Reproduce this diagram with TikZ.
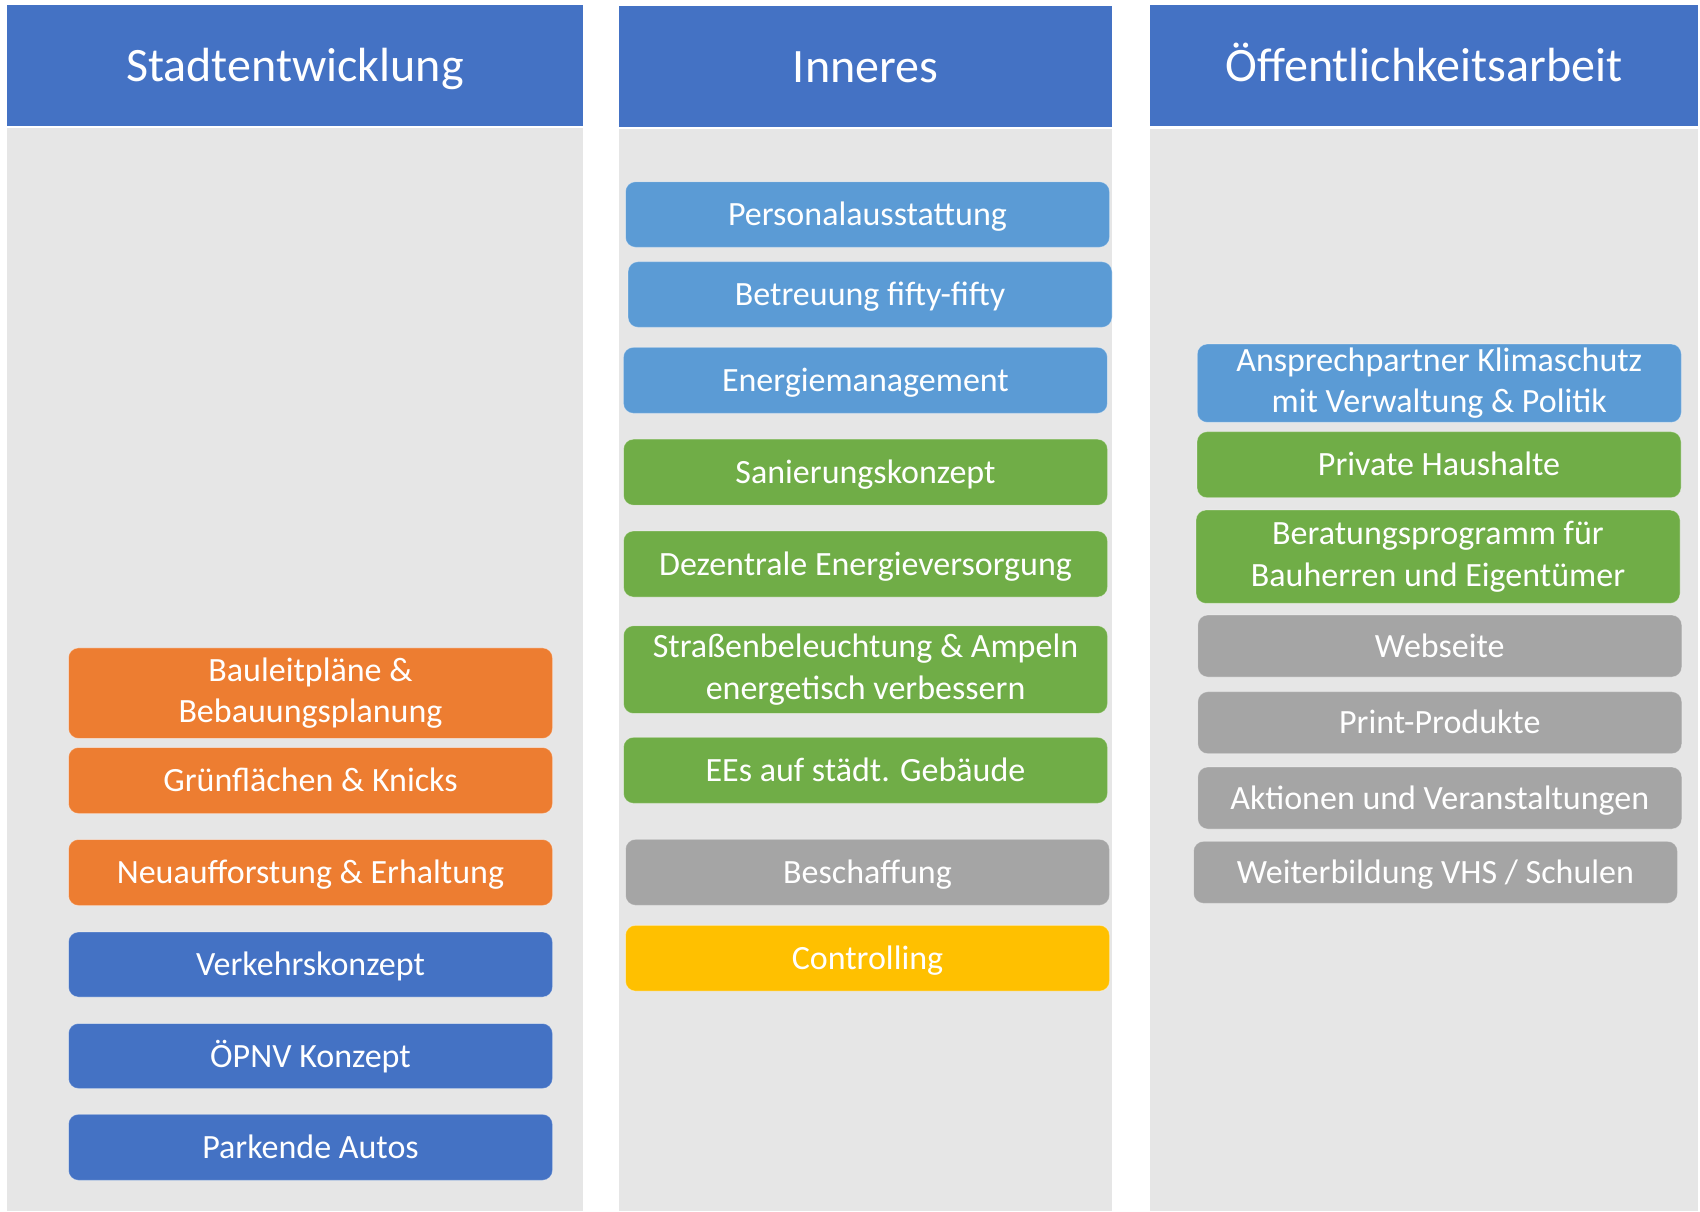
\documentclass[tikz,border=0pt]{standalone}
\usepackage{fontspec}
\setmainfont{Carlito}
\definecolor{hdrblue}{HTML}{4472C4}
\definecolor{bodygray}{HTML}{E6E6E6}
\definecolor{ltblue}{HTML}{5B9BD5}
\definecolor{grn}{HTML}{70AD47}
\definecolor{orng}{HTML}{ED7D31}
\definecolor{dkblue}{HTML}{4472C4}
\definecolor{boxgray}{HTML}{A5A5A5}
\definecolor{yell}{HTML}{FFC000}
\begin{document}
\begin{tikzpicture}[x=0.5pt,y=-0.5pt,
  hdr/.style={fill=hdrblue, inner sep=0, text=white, font=\fontsize{24}{29}\selectfont, text height=15.6pt, text depth=0pt},
  body/.style={fill=bodygray, inner sep=0},
  item/.style={rounded corners=5pt, inner sep=0, text=white, font=\fontsize{17}{20.7}\selectfont, align=center, minimum width=242pt, draw=white, draw opacity=0.35, line width=0.4pt},
  one/.style={text height=11pt, text depth=0pt},
  two/.style={yshift=-1.2pt},
]
\useasboundingbox[fill=white] (0,0) rectangle (1700,1211);
% column bodies
\node[body, minimum width=288pt, minimum height=541.75pt] (b1) at (295,669.25) {};
\node[body, minimum width=246.5pt, minimum height=541pt] (b2) at (865.5,670) {};
\node[body, minimum width=274pt, minimum height=541pt] (b3) at (1424,670) {};
% headers
\node[hdr, minimum width=288pt, minimum height=60.5pt] (h1) at (295,65.5) {Stadtentwicklung};
\node[hdr, minimum width=246.5pt, minimum height=60.5pt] (h2) at (865.5,66.5) {Inneres};
\node[hdr, minimum width=274pt, minimum height=60.5pt] (h3) at (1424,65.5) {Öffentlichkeitsarbeit};
% column 1
\node[item, fill=orng, minimum height=45.25pt, two] (bau) at (310.5,690.75) {Bauleitpläne \&\\Bebauungsplanung};
\node[item, one, fill=orng, minimum height=33pt] (gruen) at (310.5,780.5) {Grünflächen \& Knicks};
\node[item, one, fill=orng, minimum height=33pt] (neu) at (310.5,872.5) {Neuaufforstung \& Erhaltung};
\node[item, one, fill=dkblue, minimum height=32.5pt] (verk) at (310.5,964.5) {Verkehrskonzept};
\node[item, one, fill=dkblue, minimum height=32.5pt] (oepnv) at (310.5,1056) {ÖPNV Konzept};
\node[item, one, fill=dkblue, minimum height=33pt] (park) at (310.5,1147.25) {Parkende Autos};
% column 2
\node[item, one, fill=ltblue, minimum height=32.75pt] (pers) at (867.5,214.5) {Personalausstattung};
\node[item, one, fill=ltblue, minimum height=32.8pt] (betr) at (870,294.5) {Betreuung fifty-fifty};
\node[item, one, fill=ltblue, minimum height=33pt] (energ) at (865.4,380.3) {Energiemanagement};
\node[item, one, fill=grn, minimum height=33pt] (sanier) at (865.5,472.2) {Sanierungskonzept};
\node[item, one, fill=grn, minimum height=33pt] (dezent) at (865.5,564) {Dezentrale Energieversorgung};
\node[item, fill=grn, minimum height=43.85pt, two] (strassen) at (865.5,667.2) {Straßenbeleuchtung \& Ampeln\\energetisch verbessern};
\node[item, one, fill=grn, minimum height=33pt] (ees) at (865.5,770.3) {EEs auf städt. Gebäude};
\node[item, one, fill=boxgray, minimum height=33pt] (besch) at (867.5,872.3) {Beschaffung};
\node[item, one, fill=yell, minimum height=32.85pt] (contr) at (867.5,958.2) {Controlling};
% column 3
\node[item, fill=ltblue, minimum height=39.15pt, two] (ansp) at (1439.25,380.8) {Ansprechpartner Klimaschutz\\mit Verwaltung \& Politik};
\node[item, one, fill=grn, minimum height=33pt] (priv) at (1439,464.7) {Private Haushalte};
\node[item, fill=grn, minimum height=46.65pt, two] (berat) at (1438,554.3) {Beratungsprogramm für\\Bauherren und Eigentümer};
\node[item, one, fill=boxgray, minimum height=31pt] (web) at (1439.75,646) {Webseite};
\node[item, one, fill=boxgray, minimum height=31pt] (print) at (1439.75,722.7) {Print-Produkte};
\node[item, one, fill=boxgray, minimum height=31pt] (akt) at (1439.75,798) {Aktionen und Veranstaltungen};
\node[item, one, fill=boxgray, minimum height=31pt] (weiter) at (1435.5,872.3) {Weiterbildung VHS / Schulen};
\end{tikzpicture}
\end{document}
